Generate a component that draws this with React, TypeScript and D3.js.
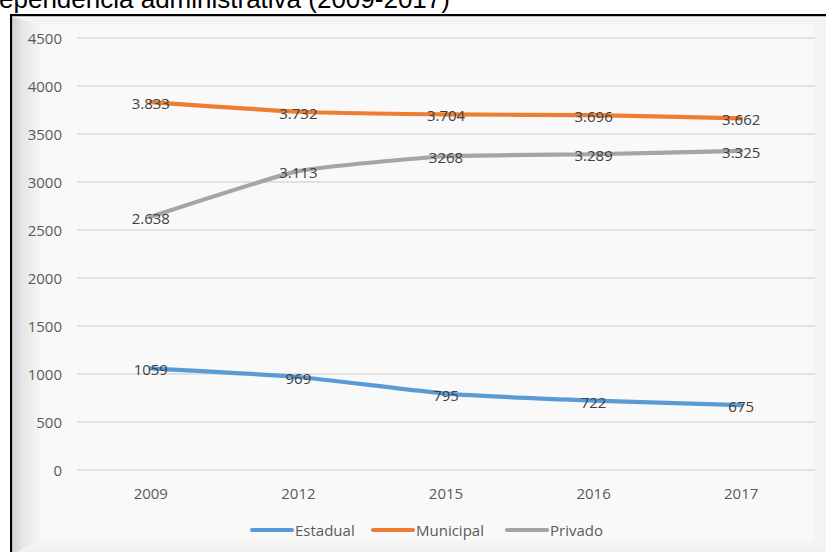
import React from 'react';
import * as d3 from 'd3';

const years = ['2009', '2012', '2015', '2016', '2017'];
const estadual = [1059, 969, 795, 722, 675];
const municipal = [3833, 3732, 3704, 3696, 3662];
const privado = [2638, 3113, 3268, 3289, 3325];
const estadualLabels = ['1059', '969', '795', '722', '675'];
const municipalLabels = ['3.833', '3.732', '3.704', '3.696', '3.662'];
const privadoLabels = ['2.638', '3.113', '3268', '3.289', '3.325'];
const yTicks = [0, 500, 1000, 1500, 2000, 2500, 3000, 3500, 4000, 4500];
const seriesNames = ['Estadual', 'Municipal', 'Privado'];
const seriesColors = ['#5b9bd5', '#ed7d31', '#a5a5a5'];
const titleText = 'ependencia administrativa (2009-2017)';

const W = 826;
const H = 552;
const FONT = "'Open Sans', sans-serif";

export default function App() {
  const x = d3.scalePoint<string>().domain(years).range([77, 815]).padding(0.5);
  const y = d3.scaleLinear().domain([0, 4500]).range([470, 38]);

  const series = [
    { name: seriesNames[0], values: estadual, labels: estadualLabels, color: seriesColors[0] },
    { name: seriesNames[1], values: municipal, labels: municipalLabels, color: seriesColors[1] },
    { name: seriesNames[2], values: privado, labels: privadoLabels, color: seriesColors[2] },
  ];

  const line = d3
    .line<number>()
    .x((_, i) => x(years[i]) as number)
    .y((d) => y(d))
    .curve(d3.curveCardinal.tension(0.55));

  const ox0 = 13, oy0 = 17, ox1 = 828, oy1 = 554;
  const ix0 = 40, iy0 = 24, ix1 = 814, iy1 = 540;

  const legendX = [252, 373, 507];
  const legendY = 530;

  return (
    <svg width={W} height={H} style={{ position: 'absolute', left: 0, top: 0, display: 'block' }}>
      <defs>
        <linearGradient id="lb" x1="0" x2="1" y1="0" y2="0">
          <stop offset="0" stopColor="#d2d2d2" />
          <stop offset="0.35" stopColor="#e6e6e6" />
          <stop offset="1" stopColor="#f5f5f5" />
        </linearGradient>
        <linearGradient id="bb" x1="0" x2="0" y1="0" y2="1">
          <stop offset="0" stopColor="#f6f6f6" />
          <stop offset="1" stopColor="#f0f0f0" />
        </linearGradient>
      </defs>
      <rect x={0} y={0} width={W} height={H} fill="#ffffff" />
      <text x={-1} y={8} fontFamily="Arial, 'Liberation Sans', sans-serif" fontSize={26} fill="#000">
        {titleText}
      </text>
      {/* bevel panel */}
      <rect x={ox0} y={oy0} width={ox1 - ox0} height={oy1 - oy0} fill="#f9f9f9" />
      <polygon points={`${ox0},${oy0} ${ix0},${iy0} ${ix0},${iy1} ${ox0},${oy1}`} fill="url(#lb)" />
      <polygon points={`${ox0},${oy0} ${ox1},${oy0} ${ix1},${iy0} ${ix0},${iy0}`} fill="#f4f4f4" />
      <polygon points={`${ox1},${oy0} ${ox1},${oy1} ${ix1},${iy1} ${ix1},${iy0}`} fill="#f3f3f3" />
      <polygon points={`${ox0},${oy1} ${ix0},${iy1} ${ix1},${iy1} ${ox1},${oy1}`} fill="url(#bb)" />
      <rect x={ix0} y={iy0} width={ix1 - ix0} height={iy1 - iy0} fill="#f9f9f9" />
      {/* frame */}
      <line x1={11} x2={W} y1={15} y2={15} stroke="#000" strokeWidth={2} />
      <line x1={11} x2={11} y1={14} y2={H} stroke="#000" strokeWidth={2} />
      <line x1={12} x2={W} y1={16.5} y2={16.5} stroke="#bdbdbd" strokeWidth={1} />
      <line x1={12.5} x2={12.5} y1={16} y2={H} stroke="#bdbdbd" strokeWidth={1} />

      {/* grid + y labels */}
      {yTicks.map((t) => (
        <g key={t}>
          <line x1={77} x2={815} y1={y(t)} y2={y(t)} stroke="#d9d9d9" strokeWidth={1.3} />
          <text
            x={62}
            y={y(t)}
            textAnchor="end"
            dominantBaseline="central"
            fontFamily={FONT}
            fontSize={15}
            fill="#595959"
          >
            {t}
          </text>
        </g>
      ))}
      {/* x labels */}
      {years.map((yr) => (
        <text
          key={yr}
          x={x(yr)}
          y={493}
          textAnchor="middle"
          dominantBaseline="central"
          fontFamily={FONT}
          fontSize={15}
          fill="#595959"
        >
          {yr}
        </text>
      ))}
      {/* lines */}
      {series.map((s) => (
        <path
          key={s.name}
          d={line(s.values) || ''}
          fill="none"
          stroke={s.color}
          strokeWidth={4.2}
          strokeLinecap="round"
          strokeLinejoin="round"
        />
      ))}
      {/* data labels */}
      {series.map((s) =>
        s.values.map((v, i) => (
          <text
            key={s.name + i}
            x={x(years[i])}
            y={y(v) + 1}
            textAnchor="middle"
            dominantBaseline="central"
            fontFamily={FONT}
            fontSize={15}
            fill="#404040"
          >
            {s.labels[i]}
          </text>
        ))
      )}
      {/* legend */}
      {series.map((s, i) => (
        <g key={'lg' + s.name}>
          <line
            x1={legendX[i]}
            x2={legendX[i] + 40}
            y1={legendY}
            y2={legendY}
            stroke={s.color}
            strokeWidth={4.2}
            strokeLinecap="round"
          />
          <text
            x={legendX[i] + 43}
            y={legendY}
            dominantBaseline="central"
            fontFamily={FONT}
            fontSize={15}
            fill="#595959"
          >
            {s.name}
          </text>
        </g>
      ))}
    </svg>
  );
}
